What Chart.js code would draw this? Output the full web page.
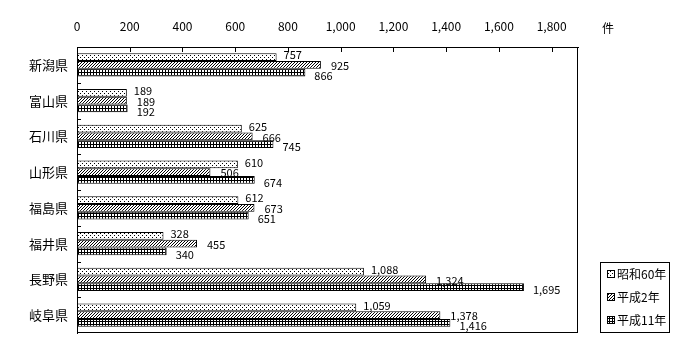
<!DOCTYPE html>
<html><head><meta charset="utf-8">
<script src="https://cdn.jsdelivr.net/npm/chart.js@4"></script>
<style>html,body{margin:0;padding:0;background:#fff}canvas{display:block}</style>
</head><body>
<canvas id="c" width="700" height="360"></canvas>
<script>
const categories = ["新潟県","富山県","石川県","山形県","福島県","福井県","長野県","岐阜県"];
const seriesNames = ["昭和60年","平成2年","平成11年"];
const s60 = [757,189,625,610,612,328,1088,1059];
const h2  = [925,189,666,506,673,455,1324,1378];
const h11 = [866,192,745,674,651,340,1695,1416];
const xTickMax = 1800;
const unitLabel = "件";

const JP = '"Noto Sans CJK JP", "Noto Sans", sans-serif';

function makePattern(w, h, pixels){
  const c = document.createElement('canvas'); c.width = w; c.height = h;
  const g = c.getContext('2d');
  g.fillStyle = '#fff'; g.fillRect(0,0,w,h);
  g.fillStyle = '#000';
  pixels.forEach(p => g.fillRect(p[0], p[1], 1, 1));
  return document.getElementById('c').getContext('2d').createPattern(c, 'repeat');
}
const patDots = makePattern(4,4,[[0,1],[2,3]]);
const patDiag = makePattern(3,3,[[2,0],[1,1],[0,2]]);
const gridPx = []; for(let i=0;i<3;i++){gridPx.push([i,0]);gridPx.push([0,i]);}
const patGrid = makePattern(3,3,gridPx);
const patterns = [patDots, patDiag, patGrid];

const labelOffsets = [{dx:7,dy:-2},{dx:10,dy:1},{dx:9,dy:3}];

const decor = {
  id: 'decor',
  afterDatasetsDraw(chart){
    const ctx = chart.ctx, a = chart.chartArea;
    const xs = chart.scales.x, ys = chart.scales.y;
    ctx.save();
    ctx.strokeStyle = '#000'; ctx.lineWidth = 1;
    ctx.strokeRect(Math.round(a.left)+0.5, Math.round(a.top)+0.5, Math.round(a.right-a.left)-1, Math.round(a.bottom-a.top)-1);
    ctx.beginPath();
    xs.ticks.forEach((t,i) => {
      if (t.value === 0) return;
      const px = Math.round(xs.getPixelForValue(t.value)) + 0.5;
      ctx.moveTo(px, a.top); ctx.lineTo(px, a.top + 5);
    });
    for (let i = 0; i < categories.length - 1; i++){
      const py = Math.round((ys.getPixelForValue(i) + ys.getPixelForValue(i+1)) / 2) + 0.5;
      ctx.moveTo(a.left, py); ctx.lineTo(a.left + 4, py);
    }
    ctx.stroke();
    ctx.fillStyle = '#000';
    ctx.font = '11px ' + JP;
    ctx.textBaseline = 'middle'; ctx.textAlign = 'left';
    chart.data.datasets.forEach((ds, di) => {
      const meta = chart.getDatasetMeta(di);
      meta.data.forEach((bar, j) => {
        const v = ds.data[j];
        ctx.fillText(v.toLocaleString('en-US'), bar.x + labelOffsets[di].dx, bar.y + labelOffsets[di].dy);
      });
    });
    ctx.font = '12px ' + JP;
    ctx.textAlign = 'center'; ctx.textBaseline = 'bottom';
    ctx.fillText(unitLabel, a.right + 30, a.top - 13);
    const lx = Math.round(a.right) + 22, lw = 70, lh = 71;
    const ly = Math.round(a.bottom) - lh;
    ctx.strokeRect(lx + 0.5, ly + 0.5, lw - 1, lh - 1);
    ctx.textAlign = 'left'; ctx.textBaseline = 'middle';
    chart.data.datasets.forEach((ds, di) => {
      const cy = ly + 12 + di * 23;
      ctx.fillStyle = ds.backgroundColor;
      ctx.fillRect(lx + 7, cy - 4, 8, 8);
      ctx.strokeRect(lx + 7.5, cy - 3.5, 7, 7);
      ctx.fillStyle = '#000';
      ctx.fillText(ds.label, lx + 17, cy);
    });
    ctx.restore();
  }
};

new Chart(document.getElementById('c'), {
  type: 'bar',
  data: {
    labels: categories,
    datasets: [s60, h2, h11].map((d, i) => ({
      label: seriesNames[i],
      data: d,
      backgroundColor: patterns[i],
      borderColor: '#000',
      borderWidth: 1,
      borderSkipped: false,
      categoryPercentage: 0.65,
      barPercentage: 1.0
    }))
  },
  options: {
    indexAxis: 'y',
    responsive: false,
    devicePixelRatio: 1,
    animation: false,
    layout: { padding: { left: 0, right: 122, top: 0, bottom: 27 } },
    plugins: { legend: { display: false }, tooltip: { enabled: false } },
    scales: {
      x: {
        position: 'top',
        min: 0, max: 1900,
        afterBuildTicks: s => { s.ticks = s.ticks.filter(t => t.value <= xTickMax); },
        afterFit: s => { s.height = 47; },
        ticks: {
          stepSize: 200, includeBounds: false, color: '#000', padding: 13, maxRotation: 0, autoSkip: false,
          font: { family: JP, size: 12 },
          callback: v => Number(v).toLocaleString('en-US')
        },
        grid: { display: false, drawTicks: false },
        border: { display: true, color: '#000', width: 1 }
      },
      y: {
        afterFit: s => { s.width = 77; },
        ticks: { color: '#000', padding: 9, font: { family: JP, size: 13 } },
        grid: { display: false, drawTicks: false },
        border: { display: true, color: '#000', width: 1 }
      }
    }
  },
  plugins: [decor]
});
</script>
</body></html>
